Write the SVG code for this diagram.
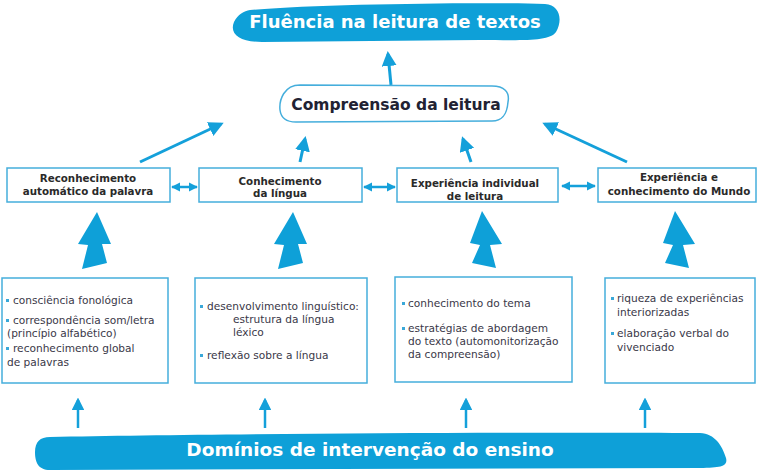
<svg xmlns="http://www.w3.org/2000/svg" width="760" height="470" viewBox="0 0 760 470">
<style>
.blob{fill:#0ea0d8}
.btitle{font-family:"DejaVu Sans",Verdana,sans-serif;font-weight:bold;fill:#ffffff;text-anchor:middle}
.box{fill:#ffffff;stroke:#45aedc;stroke-width:1.5}
.title{font-family:"DejaVu Sans",Verdana,sans-serif;font-weight:bold;font-size:10.3px;fill:#2a2a2a;text-anchor:middle}
.item{font-family:"DejaVu Sans",Verdana,sans-serif;font-size:10.6px;fill:#3a3848}
.dot{fill:#3aa8d8}
.ln{stroke:#14a0da;stroke-width:3;fill:none}
.dbl{stroke:#14a0da;stroke-width:2.5;fill:none}
.thin{stroke:#14a0da;stroke-width:2.5;fill:none}
.fat{fill:#0ea0d8}
</style>
<defs>
<marker id="ah" viewBox="0 0 10 10" refX="8" refY="5" markerWidth="5" markerHeight="5" orient="auto-start-reverse">
<path d="M0,0 L10,5 L0,10 Z" fill="#14a0da"/>
</marker>
<marker id="ah2" viewBox="0 0 10 10" refX="9" refY="5" markerWidth="3.6" markerHeight="4" orient="auto-start-reverse">
<path d="M0,0 L10,5 L0,10 Z" fill="#14a0da"/>
</marker>
</defs>

<g id="connectors">
<line class="ln" x1="391" y1="85" x2="388" y2="54" marker-end="url(#ah)"/>
<line class="ln" x1="140" y1="162" x2="221" y2="124" marker-end="url(#ah)"/>
<line class="ln" x1="300" y1="162" x2="305" y2="139" marker-end="url(#ah)"/>
<line class="ln" x1="471" y1="162" x2="463" y2="139" marker-end="url(#ah)"/>
<line class="ln" x1="627" y1="162" x2="545" y2="124" marker-end="url(#ah)"/>
<line class="dbl" x1="172" y1="187" x2="197" y2="187" marker-start="url(#ah2)" marker-end="url(#ah2)"/>
<line class="dbl" x1="364" y1="187" x2="395" y2="187" marker-start="url(#ah2)" marker-end="url(#ah2)"/>
<line class="dbl" x1="562" y1="186" x2="595" y2="186" marker-start="url(#ah2)" marker-end="url(#ah2)"/>
<polygon class="fat" points="97,212 111,244 102,244 107,263 82,269 88,245 78,244"/>
<polygon class="fat" points="293,212 307,244 298,244 303,263 278,269 284,245 274,244"/>
<polygon class="fat" points="482,211 502,244 490,245 496,268 472,263 480,245 470,243"/>
<polygon class="fat" points="675,211 695,244 683,245 689,268 665,263 673,245 663,243"/>
<line class="thin" x1="78" y1="428" x2="78" y2="400" marker-end="url(#ah)"/>
<line class="thin" x1="265" y1="428" x2="265" y2="400" marker-end="url(#ah)"/>
<line class="thin" x1="466" y1="428" x2="466" y2="400" marker-end="url(#ah)"/>
<line class="thin" x1="645" y1="428" x2="645" y2="400" marker-end="url(#ah)"/>
</g>

<g id="fluencia">
<path class="blob" d="M250,10 C320,4 480,2 545,4 C560,5 563,20 556,32 C549,42 520,40 480,40 L262,42 C240,42 229,34 234,22 C238,14 244,11 250,10 Z"/>
<text class="btitle" x="395" y="28" font-size="18">Fluência na leitura de textos</text>
</g>

<g id="compreensao">
<path d="M300,85 L492,86 C504,86 510,92 508,102 C507,114 503,121 492,121 L296,122 C286,122 281,118 280,110 C279,100 284,85 300,85 Z" fill="#ffffff" stroke="#45aedc" stroke-width="1.5"/>
<text x="396" y="110" font-family="DejaVu Sans, Verdana, sans-serif" font-weight="bold" font-size="15.5" fill="#222233" text-anchor="middle">Compreensão da leitura</text>
</g>

<g id="reconhecimento">
<rect class="box" x="7" y="168" width="163" height="34"/>
<text class="title" x="88" y="182">Reconhecimento</text>
<text class="title" x="88" y="195">automático da palavra</text>
</g>

<g id="conhecimento-lingua">
<rect class="box" x="199" y="168" width="163" height="34"/>
<text class="title" x="280" y="185">Conhecimento</text>
<text class="title" x="280" y="197">da língua</text>
</g>

<g id="experiencia-leitura">
<rect class="box" x="397" y="168" width="161" height="34"/>
<text class="title" x="475" y="187">Experiência individual</text>
<text class="title" x="475" y="200">de leitura</text>
</g>

<g id="experiencia-mundo">
<rect class="box" x="598" y="168" width="158" height="34"/>
<text class="title" x="679" y="181">Experiência e</text>
<text class="title" x="679" y="195">conhecimento do Mundo</text>
</g>

<g id="dominio-a">
<rect class="box" x="2" y="278" width="166" height="105"/>
<rect class="dot" x="6" y="299" width="3" height="3"/>
<text class="item" x="13" y="304">consciência fonológica</text>
<rect class="dot" x="6" y="319" width="3" height="3"/>
<text class="item" x="13" y="324">correspondência som/letra</text>
<text class="item" x="7" y="337">(princípio alfabético)</text>
<rect class="dot" x="6" y="347" width="3" height="3"/>
<text class="item" x="13" y="352">reconhecimento global</text>
<text class="item" x="7" y="366">de palavras</text>
</g>

<g id="dominio-b">
<rect class="box" x="195" y="278" width="172" height="105"/>
<rect class="dot" x="200" y="305" width="3" height="3"/>
<text class="item" x="207" y="310">desenvolvimento linguístico:</text>
<text class="item" x="233" y="323">estrutura da língua</text>
<text class="item" x="233" y="336">léxico</text>
<rect class="dot" x="200" y="354" width="3" height="3"/>
<text class="item" x="207" y="359">reflexão sobre a língua</text>
</g>

<g id="dominio-c">
<rect class="box" x="395" y="277" width="177" height="105"/>
<rect class="dot" x="402" y="302" width="3" height="3"/>
<text class="item" x="408" y="307">conhecimento do tema</text>
<rect class="dot" x="402" y="327" width="3" height="3"/>
<text class="item" x="408" y="332">estratégias de abordagem</text>
<text class="item" x="408" y="345">do texto (automonitorização</text>
<text class="item" x="408" y="358">da compreensão)</text>
</g>

<g id="dominio-d">
<rect class="box" x="605" y="278" width="150" height="105"/>
<rect class="dot" x="611" y="297" width="3" height="3"/>
<text class="item" x="617" y="302">riqueza de experiências</text>
<text class="item" x="617" y="316">interiorizadas</text>
<rect class="dot" x="611" y="332" width="3" height="3"/>
<text class="item" x="617" y="337">elaboração verbal do</text>
<text class="item" x="617" y="351">vivenciado</text>
</g>

<g id="dominios">
<path class="blob" d="M50,437 C200,434 500,432 700,433 C715,434 722,445 726,458 C728,466 722,468 700,468 L50,470 C38,470 35,462 35,452 C35,442 40,437 50,437 Z"/>
<text class="btitle" x="370" y="456" font-size="18.5">Domínios de intervenção do ensino</text>
</g>
</svg>
